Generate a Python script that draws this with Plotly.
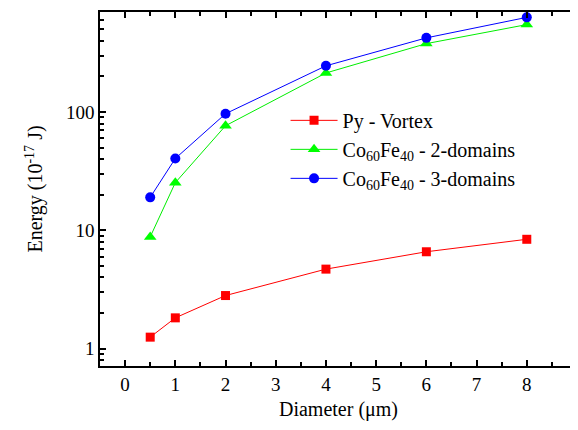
import plotly.graph_objects as go

diameter = [0.5, 1, 2, 4, 6, 8]
py_vortex = [1.25, 1.82, 2.81, 4.70, 6.59, 8.4]
cofe_2dom = [8.8, 25.3, 76.6, 214, 379, 549]
cofe_3dom = [19.0, 40.5, 96.8, 246, 424, 632]

x_ticks = [0, 1, 2, 3, 4, 5, 6, 7, 8, 9]
y_ticks = [1, 10, 100]
y_ticktext = ["1", "10", "100"]
y_minor = [m * d for d in (0.1, 1, 10, 100) for m in range(2, 10)]

FONT = "Liberation Serif"

fig = go.Figure()
fig.add_trace(go.Scatter(
    x=diameter, y=py_vortex, mode="lines+markers", name="Py - Vortex",
    line=dict(color="#ff0000", width=1),
    marker=dict(symbol="square", size=9, color="#ff0000"),
))
fig.add_trace(go.Scatter(
    x=diameter, y=cofe_2dom, mode="lines+markers",
    name="Co<sub>60</sub>Fe<sub>40</sub> - 2-domains",
    line=dict(color="#00ee00", width=1),
    marker=dict(symbol="triangle-up", size=11, color="#00ff00"),
))
fig.add_trace(go.Scatter(
    x=diameter, y=cofe_3dom, mode="lines+markers",
    name="Co<sub>60</sub>Fe<sub>40</sub> - 3-domains",
    line=dict(color="#0000ff", width=1),
    marker=dict(symbol="circle", size=10, color="#0000ff"),
))

# the page body adds an 8px offset, so the figure is 8px smaller and margins shifted
fig.update_layout(
    width=570, height=422,
    margin=dict(l=92, r=1, t=4, b=64, autoexpand=False),
    paper_bgcolor="white", plot_bgcolor="white",
    font=dict(family=FONT, size=19, color="black"),
    showlegend=True,
    legend=dict(
        x=0.389, y=0.749, xanchor="left", yanchor="top",
        bgcolor="rgba(0,0,0,0)", font=dict(family=FONT, size=20),
        tracegroupgap=0, itemwidth=47,
    ),
    xaxis=dict(
        range=[-0.5, 9], tickmode="array", tickvals=x_ticks,
        ticks="inside", ticklen=6, tickwidth=1.5, tickcolor="black",
        showline=True, linecolor="black", linewidth=1.5, mirror="ticks",
        showgrid=False, zeroline=False, automargin=False,
        ticklabeloverflow="allow",
        tickfont=dict(family=FONT, size=19),
        title=dict(text="Diameter (μm)", font=dict(family=FONT, size=20), standoff=8),
        minor=dict(tickmode="array", tickvals=[v + 0.5 for v in x_ticks[:-1]],
                   ticks="inside", ticklen=4, tickwidth=1.5, tickcolor="black", showgrid=False),
    ),
    yaxis=dict(
        type="log", range=[-0.147, 2.846], tickmode="array",
        tickvals=y_ticks, ticktext=y_ticktext,
        ticks="inside", ticklen=6, tickwidth=1.5, tickcolor="black",
        showline=True, linecolor="black", linewidth=1.5, mirror="ticks",
        showgrid=False, zeroline=False, automargin=False,
        tickfont=dict(family=FONT, size=19),
        title=dict(text="Energy (10<sup>-17</sup> J)", font=dict(family=FONT, size=20), standoff=18),
        minor=dict(tickmode="array", tickvals=y_minor,
                   ticks="inside", ticklen=4, tickwidth=1.5, tickcolor="black", showgrid=False),
    ),
)

fig.write_html("out.html")
